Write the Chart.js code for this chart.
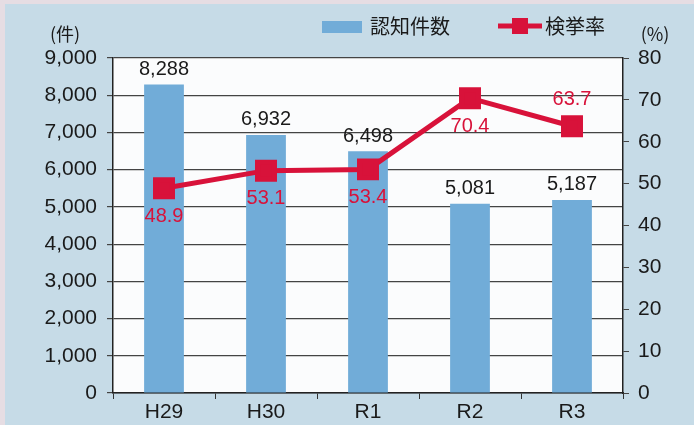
<!DOCTYPE html>
<html>
<head>
<meta charset="utf-8">
<script src="https://cdn.jsdelivr.net/npm/chart.js@4"></script>
<style>
  html, body { margin:0; padding:0; background:#c6dbe7; }
  #wrap { width:694px; height:425px; position:relative; }
</style>
</head>
<body>
<div id="wrap"><canvas id="c" width="694" height="425"></canvas></div>
<script>
const years = ['H29', 'H30', 'R1', 'R2', 'R3'];
const cases = [8288, 6932, 6498, 5081, 5187];     // 認知件数
const rate = [48.9, 53.1, 53.4, 70.4, 63.7];      // 検挙率 (%)
const rateLabelPos = ['below', 'below', 'below', 'below', 'above'];

const numFont = '"Liberation Sans", Arial, sans-serif';
const jpFont = '"Noto Sans CJK JP", sans-serif';
const RED = '#d8123a';
const BLUE = '#71acd8';

const bgPlugin = {
  id: 'bg',
  beforeDraw(chart) {
    const { ctx, chartArea: a } = chart;
    ctx.save();
    ctx.fillStyle = '#c6dbe7';
    ctx.fillRect(0, 0, chart.width, chart.height);
    ctx.fillStyle = '#e6dde3';
    ctx.fillRect(0, 0, chart.width, 4);
    ctx.fillRect(0, 0, 5, chart.height);
    ctx.fillStyle = '#fbfcfd';
    ctx.fillRect(a.left, a.top, a.right - a.left, a.bottom - a.top);
    ctx.restore();
  }
};

const extrasPlugin = {
  id: 'extras',
  afterDatasetsDraw(chart) {
    const { ctx } = chart;
    ctx.save();
    ctx.textAlign = 'center';
    ctx.textBaseline = 'middle';
    // bar value labels (dataset 1 = bars)
    ctx.fillStyle = '#1a1a1a';
    ctx.font = '20px ' + numFont;
    chart.getDatasetMeta(1).data.forEach((bar, i) => {
      ctx.fillText(cases[i].toLocaleString('en-US'), bar.x, bar.y - 15);
    });
    // rate labels (dataset 0 = line)
    ctx.fillStyle = RED;
    chart.getDatasetMeta(0).data.forEach((pt, i) => {
      const dy = rateLabelPos[i] === 'above' ? -27 : 28;
      ctx.fillText(rate[i].toFixed(1), pt.x, pt.y + dy);
    });
    // axis unit titles
    ctx.fillStyle = '#1a1a1a';
    ctx.font = '18px ' + jpFont;
    ctx.fillText('(件)', 65, 34);
    ctx.fillText('(%)', 655, 34);
    // legend
    ctx.fillStyle = BLUE;
    ctx.fillRect(322, 21, 40, 12);
    ctx.fillStyle = '#1a1a1a';
    ctx.font = '20px ' + jpFont;
    ctx.textAlign = 'left';
    ctx.fillText('認知件数', 370, 26);
    ctx.strokeStyle = RED;
    ctx.lineWidth = 5;
    ctx.beginPath();
    ctx.moveTo(498, 26);
    ctx.lineTo(542, 26);
    ctx.stroke();
    ctx.fillStyle = RED;
    ctx.fillRect(512, 18, 16, 16);
    ctx.fillStyle = '#1a1a1a';
    ctx.fillText('検挙率', 545, 26);
    ctx.restore();
  }
};

new Chart(document.getElementById('c'), {
  data: {
    labels: years,
    datasets: [
      {
        type: 'line', label: '検挙率', data: rate, yAxisID: 'y1',
        borderColor: RED, backgroundColor: RED, borderWidth: 5,
        pointStyle: 'rect', pointRadius: 12, pointHoverRadius: 12,
        tension: 0, order: 0
      },
      {
        type: 'bar', label: '認知件数', data: cases, yAxisID: 'y',
        backgroundColor: BLUE, barPercentage: 0.39, categoryPercentage: 1,
        order: 1
      }
    ]
  },
  options: {
    responsive: false, animation: false,
    layout: { padding: { top: 58, left: 0, right: 0, bottom: 0 } },
    plugins: { legend: { display: false }, tooltip: { enabled: false } },
    scales: {
      x: {
        grid: { display: true, drawOnChartArea: false, offset: true, color: '#333', tickLength: 6 },
        border: { color: '#222', width: 1.5 },
        ticks: { color: '#1a1a1a', font: { family: numFont, size: 21 }, padding: 1 },
        afterFit(s) { s.height = 32; }
      },
      y: {
        position: 'left', min: 0, max: 9000,
        ticks: { stepSize: 1000, color: '#1a1a1a', padding: 10,
          font: { family: numFont, size: 21 },
          callback: v => v.toLocaleString('en-US') },
        grid: { color: '#444', lineWidth: 1.2, tickLength: 6 },
        border: { color: '#222', width: 1.5 },
        afterFit(s) { s.width = 113; }
      },
      y1: {
        position: 'right', min: 0, max: 80,
        ticks: { stepSize: 10, color: '#1a1a1a', padding: 9,
          font: { family: numFont, size: 21 } },
        grid: { drawOnChartArea: false, color: '#444', tickLength: 6 },
        border: { color: '#222', width: 1.5 },
        afterFit(s) { s.width = 71; }
      }
    }
  },
  plugins: [bgPlugin, extrasPlugin]
});
</script>
</body>
</html>
